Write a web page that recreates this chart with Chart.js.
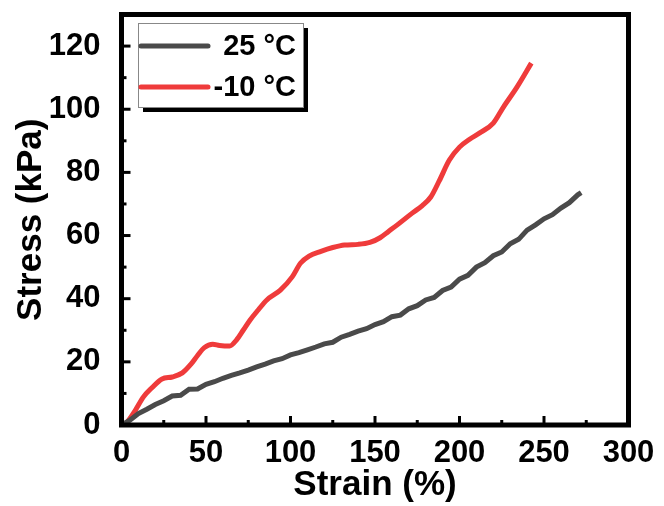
<!DOCTYPE html>
<html>
<head>
<meta charset="utf-8">
<script src="https://cdn.jsdelivr.net/npm/chart.js@4.4.1/dist/chart.umd.min.js"></script>
<style>
  html, body { margin: 0; padding: 0; background: #fff; }
  #wrap { width: 664px; height: 506px; }
</style>
</head>
<body>
<div id="wrap"><canvas id="chart" width="664" height="506"></canvas></div>
<script>
// strain (%) and stress (kPa)
const warmLabel = '25 °C';
const warmStrain = [0, 5, 10, 15, 20, 25, 30, 35, 40, 45, 50, 55, 60, 65, 70, 75, 80, 85, 90, 95,
  100, 105, 110, 115, 120, 125, 130, 135, 140, 145, 150, 155, 160, 165, 170, 175, 180, 185, 190, 195,
  200, 205, 210, 215, 220, 225, 230, 235, 240, 245, 250, 255, 260, 265, 270, 272];
const warmStress = [0, 1.5, 3.6, 5.0, 6.5, 7.7, 9.2, 9.4, 11.3, 11.4, 12.9, 13.7, 14.8, 15.7, 16.5, 17.4, 18.4, 19.3, 20.3, 21.0,
  22.2, 22.9, 23.8, 24.7, 25.7, 26.2, 27.8, 28.7, 29.7, 30.5, 31.8, 32.7, 34.3, 34.8, 36.8, 37.8, 39.6, 40.4, 42.6, 43.7,
  46.2, 47.4, 50.0, 51.4, 53.6, 54.8, 57.4, 58.8, 61.7, 63.4, 65.3, 66.6, 68.7, 70.4, 72.9, 73.6];

const coldLabel = '-10 °C';
const coldStrain = [0, 3, 8, 13, 18, 24, 30, 36, 41, 45, 49, 54, 58, 64, 68, 72, 76, 81, 86, 94,
  101, 106, 111, 118, 125, 132, 140, 147, 153, 158, 163, 172, 178, 183, 188, 194, 200, 206, 212, 220,
  226, 234, 242.5];
const coldStress = [0, 0.8, 4.5, 8.9, 11.8, 14.6, 15.2, 16.5, 19.2, 22.0, 24.5, 25.6, 25.2, 25.0, 26.9, 30.0, 33.2, 36.5, 39.6, 42.7,
  46.9, 51.3, 53.5, 55.0, 56.2, 57.0, 57.2, 57.8, 59.3, 61.3, 63.3, 67.1, 69.5, 72.2, 77.3, 83.9, 88.0, 90.5, 92.5, 95.6,
  100.7, 107.0, 114.6];

const xTicks = [0, 50, 100, 150, 200, 250, 300];
const yTicks = [0, 20, 40, 60, 80, 100, 120];

const FONT = '"Liberation Sans", Arial, sans-serif';

function toPoints(xs, ys) {
  return xs.map((x, i) => ({ x: x, y: ys[i] }));
}

// black frame with inward major/minor ticks
const framePlugin = {
  id: 'frame',
  afterDatasetsDraw(chart) {
    const { ctx, chartArea: a, scales } = chart;
    ctx.save();
    ctx.strokeStyle = '#000';
    ctx.lineWidth = 3;
    xTicks.forEach((v, i) => {
      const px = scales.x.getPixelForValue(v);
      ctx.beginPath(); ctx.moveTo(px, a.bottom); ctx.lineTo(px, a.bottom - 9); ctx.stroke();
      if (i < xTicks.length - 1) {
        const mx = scales.x.getPixelForValue(v + 25);
        ctx.beginPath(); ctx.moveTo(mx, a.bottom); ctx.lineTo(mx, a.bottom - 5); ctx.stroke();
      }
    });
    yTicks.forEach((v) => {
      const py = scales.y.getPixelForValue(v);
      ctx.beginPath(); ctx.moveTo(a.left, py); ctx.lineTo(a.left + 9, py); ctx.stroke();
      const my = scales.y.getPixelForValue(v + 10);
      ctx.beginPath(); ctx.moveTo(a.left, my); ctx.lineTo(a.left + 5, my); ctx.stroke();
    });
    ctx.lineWidth = 5;
    ctx.strokeRect(a.left, a.top, a.right - a.left, a.bottom - a.top);
    ctx.restore();
  },
};

// legend box with drop shadow, inside the plot
const legendPlugin = {
  id: 'boxLegend',
  afterDraw(chart) {
    const ctx = chart.ctx;
    const bx = 138, by = 23, bw = 165, bh = 84;
    ctx.save();
    ctx.fillStyle = '#000';
    ctx.fillRect(bx + 5, by + 5, bw, bh);
    ctx.fillStyle = '#fff';
    ctx.fillRect(bx, by, bw, bh);
    ctx.strokeStyle = '#888';
    ctx.lineWidth = 1;
    ctx.strokeRect(bx + 0.5, by + 0.5, bw, bh);
    ctx.font = 'bold 29px ' + FONT;
    ctx.textAlign = 'right';
    ctx.textBaseline = 'middle';
    chart.data.datasets.forEach((ds, i) => {
      const ly = by + 23 + i * 41;
      ctx.strokeStyle = ds.borderColor;
      ctx.lineWidth = 5;
      ctx.lineCap = 'round';
      ctx.beginPath(); ctx.moveTo(bx + 3, ly); ctx.lineTo(bx + 70, ly); ctx.stroke();
      ctx.fillStyle = '#000';
      ctx.fillText(ds.label, bx + bw - 7, ly + 1);
    });
    ctx.restore();
  },
};

new Chart(document.getElementById('chart').getContext('2d'), {
  type: 'line',
  data: {
    datasets: [
      {
        label: warmLabel,
        data: toPoints(warmStrain, warmStress),
        borderColor: '#4a4a4a',
        borderWidth: 5,
        pointRadius: 0,
        tension: 0,
      },
      {
        label: coldLabel,
        data: toPoints(coldStrain, coldStress),
        borderColor: '#ef3b3b',
        borderWidth: 5,
        pointRadius: 0,
        cubicInterpolationMode: 'monotone',
      },
    ],
  },
  options: {
    responsive: false,
    animation: false,
    layout: { padding: { left: 0, right: 35.5, top: 14.5, bottom: 0 } },
    plugins: {
      legend: { display: false },
      tooltip: { enabled: false },
    },
    scales: {
      x: {
        type: 'linear',
        min: 0,
        max: 300,
        grid: { display: false },
        border: { display: false },
        ticks: {
          stepSize: 50,
          padding: 2,
          color: '#000',
          maxRotation: 0,
          font: { family: FONT, size: 31, weight: 'bold' },
        },
        title: {
          display: true,
          text: 'Strain (%)',
          color: '#000',
          padding: { top: 0, bottom: 0 },
          font: { family: FONT, size: 35, weight: 'bold' },
        },
        afterFit(scale) {
          scale.height = 81;
          scale.paddingLeft = 0;
          scale.paddingRight = 0;
        },
      },
      y: {
        min: 0,
        max: 130,
        grid: { display: false },
        border: { display: false },
        ticks: {
          stepSize: 20,
          includeBounds: false,
          padding: 13,
          color: '#000',
          font: { family: FONT, size: 31, weight: 'bold' },
        },
        title: {
          display: true,
          text: 'Stress (kPa)',
          color: '#000',
          padding: { top: 10, bottom: 0 },
          font: { family: FONT, size: 35, weight: 'bold' },
        },
        afterFit(scale) {
          scale.width = 121.5;
          scale.paddingTop = 0;
          scale.paddingBottom = 0;
        },
      },
    },
  },
  plugins: [framePlugin, legendPlugin],
});
</script>
</body>
</html>
